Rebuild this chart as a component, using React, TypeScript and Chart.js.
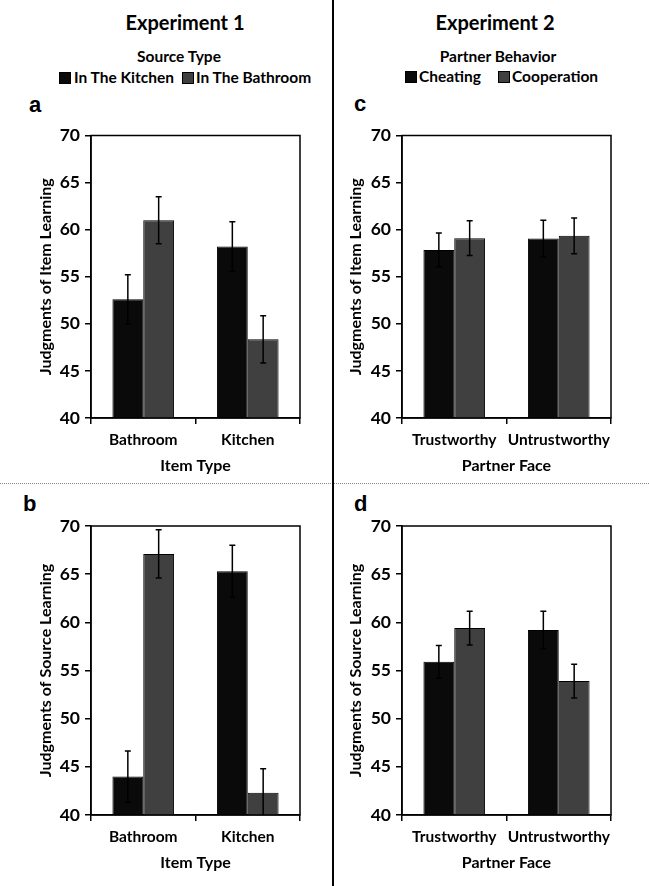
import React, { useEffect, useRef } from "react";
import { Chart, registerables } from "chart.js";

Chart.register(...registerables);

// ---------- DATA ----------
const exp1Categories = ["Bathroom", "Kitchen"];
const exp1Series = ["In The Kitchen", "In The Bathroom"];
const exp2Categories = ["Trustworthy", "Untrustworthy"];
const exp2Series = ["Cheating", "Cooperation"];

// Panel a: Judgments of Item Learning (Experiment 1)
const aKitchen = [52.6, 58.2];
const aKitchenErr = [2.6, 2.65];
const aBathroom = [61.0, 48.35];
const aBathroomErr = [2.5, 2.5];

// Panel b: Judgments of Source Learning (Experiment 1)
const bKitchen = [44.0, 65.3];
const bKitchenErr = [2.65, 2.7];
const bBathroom = [67.1, 42.3];
const bBathroomErr = [2.5, 2.5];

// Panel c: Judgments of Item Learning (Experiment 2)
const cCheating = [57.85, 59.05];
const cCheatingErr = [1.8, 1.95];
const cCooperation = [59.1, 59.35];
const cCooperationErr = [1.85, 1.9];

// Panel d: Judgments of Source Learning (Experiment 2)
const dCheating = [55.9, 59.2];
const dCheatingErr = [1.7, 1.95];
const dCooperation = [59.4, 53.9];
const dCooperationErr = [1.75, 1.75];

const yMin = 40;
const yMax = 70;
const yStep = 5;

// ---------- STYLE ----------
const BLACK = "#0a0a0a";
const GRAY = "#404040";
const FONT = "Lato";
const seriesColors = [BLACK, GRAY];

const errorBarPlugin = {
  id: "errorBars",
  afterDatasetsDraw(chart: any) {
    const { ctx, chartArea } = chart;
    const yScale = chart.scales.y;
    ctx.save();
    ctx.beginPath();
    ctx.rect(chartArea.left, chartArea.top, chartArea.right - chartArea.left, chartArea.bottom - chartArea.top);
    ctx.clip();
    ctx.strokeStyle = "#000";
    ctx.lineWidth = 1.5;
    chart.data.datasets.forEach((ds: any, di: number) => {
      const meta = chart.getDatasetMeta(di);
      meta.data.forEach((bar: any, i: number) => {
        const v = ds.data[i];
        const e = ds.errors[i];
        const yT = yScale.getPixelForValue(v + e);
        const yB = yScale.getPixelForValue(v - e);
        const x = bar.x;
        const cap = 3;
        ctx.beginPath();
        ctx.moveTo(x, yT);
        ctx.lineTo(x, yB);
        ctx.moveTo(x - cap, yT);
        ctx.lineTo(x + cap, yT);
        ctx.moveTo(x - cap, yB);
        ctx.lineTo(x + cap, yB);
        ctx.stroke();
      });
    });
    ctx.restore();
  },
};

const framePlugin = {
  id: "frame",
  afterDraw(chart: any) {
    const { ctx, chartArea } = chart;
    ctx.save();
    ctx.strokeStyle = "#000";
    ctx.lineWidth = 1.5;
    ctx.strokeRect(chartArea.left, chartArea.top, chartArea.right - chartArea.left, chartArea.bottom - chartArea.top);
    ctx.restore();
  },
};

type PanelProps = {
  left: number;
  top: number;
  width: number;
  height: number;
  padding: { top: number; right: number; bottom: number; left: number };
  yAxisWidth: number;
  yTitlePad: number;
  yTitle: string;
  xTitle: string;
  categories: string[];
  series: string[];
  values: number[][];
  errors: number[][];
};

function Panel(p: PanelProps) {
  const ref = useRef<HTMLCanvasElement | null>(null);
  useEffect(() => {
    if (!ref.current) return;
    const chart = new Chart(ref.current, {
      type: "bar",
      data: {
        labels: p.categories,
        datasets: p.series.map((s, i) => ({
          label: s,
          data: p.values[i],
          errors: p.errors[i],
          backgroundColor: seriesColors[i],
          borderColor: "#000",
          borderWidth: 1,
          categoryPercentage: 0.59,
          barPercentage: 1,
        })) as any,
      },
      options: {
        animation: false,
        responsive: false,
        maintainAspectRatio: false,
        layout: { padding: p.padding },
        plugins: {
          legend: { display: false },
          tooltip: { enabled: false },
        },
        scales: {
          x: {
            grid: {
              offset: true,
              drawOnChartArea: false,
              drawTicks: true,
              tickLength: 6,
              color: "#000",
              lineWidth: 1.5,
            },
            border: { color: "#000", width: 1.5 },
            ticks: {
              color: "#000",
              font: { family: FONT, weight: "bold", size: 15.5 },
              padding: 7,
              maxRotation: 0,
              minRotation: 0,
              autoSkip: false,
            },
            title: {
              display: true,
              text: p.xTitle,
              color: "#000",
              font: { family: FONT, weight: "bold", size: 16 },
              padding: { top: 0, bottom: 3 },
            },
            afterFit: (s: any) => {
              s.height = 60;
            },
          },
          y: {
            min: yMin,
            max: yMax,
            ticks: {
              stepSize: yStep,
              color: "#000",
              font: { family: FONT, weight: "bold", size: 17.5 },
              padding: 5,
            },
            grid: {
              drawOnChartArea: false,
              drawTicks: true,
              tickLength: 6,
              color: "#000",
              lineWidth: 1.5,
            },
            border: { color: "#000", width: 1.5 },
            title: {
              display: true,
              text: p.yTitle,
              color: "#000",
              font: { family: FONT, weight: "bold", size: 16 },
              padding: { top: p.yTitlePad, bottom: 0 },
            },
            afterFit: (s: any) => {
              s.width = p.yAxisWidth;
            },
          },
        },
      } as any,
      plugins: [errorBarPlugin, framePlugin],
    });
    return () => chart.destroy();
  }, []);
  return (
    <canvas
      ref={ref}
      width={p.width}
      height={p.height}
      style={{ position: "absolute", left: p.left, top: p.top, width: p.width, height: p.height }}
    />
  );
}

function Txt(props: {
  x: number;
  baseline: number;
  size: number;
  text: string;
  center?: boolean;
  family?: string;
  ascent?: number;
}) {
  const asc = props.ascent ?? 0.987;
  return (
    <div
      style={{
        position: "absolute",
        left: props.x,
        top: props.baseline - asc * props.size,
        fontSize: props.size,
        lineHeight: 1.2,
        fontWeight: 700,
        fontFamily: props.family ?? FONT,
        whiteSpace: "nowrap",
        color: "#000",
        transform: props.center ? "translateX(-50%)" : undefined,
      }}
    >
      {props.text}
    </div>
  );
}

function LegendItem(props: { x: number; textX: number; top: number; color: string; text: string }) {
  return (
    <>
      <div
        style={{
          position: "absolute",
          left: props.x,
          top: props.top,
          width: 10,
          height: 10,
          background: props.color,
          border: "1px solid #000",
        }}
      />
      <Txt x={props.textX} baseline={props.top + 11} size={15.5} text={props.text} />
    </>
  );
}

export default function App() {
  useEffect(() => {
    document.body.style.margin = "0";
  }, []);
  return (
    <div style={{ position: "relative", width: 649, height: 886, overflow: "hidden", background: "#fff" }}>
      {/* Headers */}
      <Txt x={185} baseline={30} size={20} text="Experiment 1" center />
      <Txt x={495} baseline={30} size={20} text="Experiment 2" center />
      <Txt x={179} baseline={62} size={15.5} text="Source Type" center />
      <Txt x={498} baseline={62} size={15.5} text="Partner Behavior" center />

      {/* Legends */}
      <LegendItem x={59} textX={74} top={72} color={seriesColors[0]} text={exp1Series[0]} />
      <LegendItem x={182} textX={196} top={72} color={seriesColors[1]} text={exp1Series[1]} />
      <LegendItem x={405} textX={419} top={71} color={seriesColors[0]} text={exp2Series[0]} />
      <LegendItem x={498} textX={512} top={71} color={seriesColors[1]} text={exp2Series[1]} />

      {/* Panel letters */}
      <Txt x={29} baseline={113} size={22} text="a" family="Liberation Sans" ascent={0.9465} />
      <Txt x={354} baseline={112} size={22} text="c" family="Liberation Sans" ascent={0.9465} />
      <Txt x={23} baseline={512} size={22} text="b" family="Liberation Sans" ascent={0.9465} />
      <Txt x={354} baseline={512} size={22} text="d" family="Liberation Sans" ascent={0.9465} />

      <Panel
        left={0}
        top={120}
        width={330}
        height={360}
        padding={{ top: 14, right: 30, bottom: 2, left: 0 }}
        yAxisWidth={91}
        yTitlePad={36}
        yTitle="Judgments of Item Learning"
        xTitle="Item Type"
        categories={exp1Categories}
        series={exp1Series}
        values={[aKitchen, aBathroom]}
        errors={[aKitchenErr, aBathroomErr]}
      />
      <Panel
        left={0}
        top={490}
        width={330}
        height={396}
        padding={{ top: 36, right: 30, bottom: 11, left: 0 }}
        yAxisWidth={91}
        yTitlePad={36}
        yTitle="Judgments of Source Learning"
        xTitle="Item Type"
        categories={exp1Categories}
        series={exp1Series}
        values={[bKitchen, bBathroom]}
        errors={[bKitchenErr, bBathroomErr]}
      />
      <Panel
        left={340}
        top={120}
        width={309}
        height={360}
        padding={{ top: 14, right: 38, bottom: 2, left: 0 }}
        yAxisWidth={62}
        yTitlePad={6}
        yTitle="Judgments of Item Learning"
        xTitle="Partner Face"
        categories={exp2Categories}
        series={exp2Series}
        values={[cCheating, cCooperation]}
        errors={[cCheatingErr, cCooperationErr]}
      />
      <Panel
        left={340}
        top={490}
        width={309}
        height={396}
        padding={{ top: 36, right: 38, bottom: 11, left: 0 }}
        yAxisWidth={62}
        yTitlePad={6}
        yTitle="Judgments of Source Learning"
        xTitle="Partner Face"
        categories={exp2Categories}
        series={exp2Series}
        values={[dCheating, dCooperation]}
        errors={[dCheatingErr, dCooperationErr]}
      />

      {/* Dividers */}
      <div style={{ position: "absolute", left: 0, top: 483, width: 649, height: 0, borderTop: "1px dotted #888" }} />
      <div style={{ position: "absolute", left: 332, top: 0, width: 2, height: 886, background: "#000" }} />
    </div>
  );
}
